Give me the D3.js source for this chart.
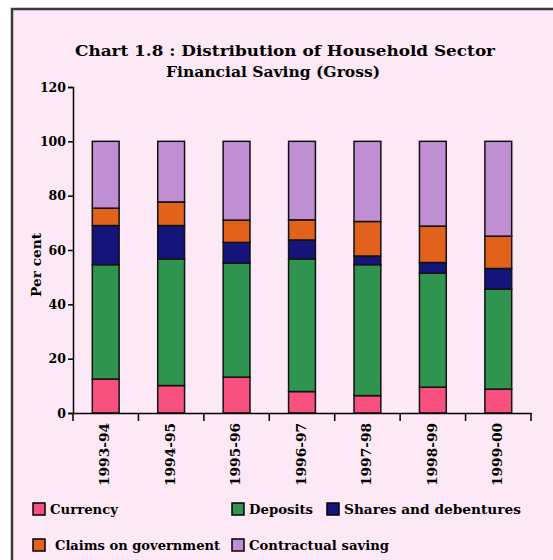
<!DOCTYPE html>
<html><head><meta charset="utf-8">
<script src="https://cdn.jsdelivr.net/npm/d3@7"></script>
<style>html,body{margin:0;padding:0;background:#fff}svg{display:block}</style>
</head><body>
<svg id="c" width="553" height="560"></svg>
<script>
const categories = ["1993-94","1994-95","1995-96","1996-97","1997-98","1998-99","1999-00"];
const seriesNames = ["Currency","Deposits","Shares and debentures","Claims on government","Contractual saving"];
const currency    = [12.5, 10.1, 13.2, 7.9, 6.4, 9.5, 8.8];
const deposits    = [42.1, 46.6, 42.0, 48.8, 48.2, 42.0, 36.8];
const shares      = [14.4, 12.3, 7.6, 7.0, 3.2, 3.9, 7.6];
const claims      = [6.4, 8.7, 8.2, 7.4, 12.7, 13.4, 11.9];
const contractual = [24.6, 22.3, 29.0, 28.9, 29.5, 31.2, 34.9];
const yTicks = [0,20,40,60,80,100,120];
const colors = ["#f8507f","#2f9450","#14147a","#e2621c","#c08ed2"];

const svg = d3.select("#c");
const font = "'DejaVu Serif', serif";
// frame background
svg.append("rect").attr("x",12).attr("y",9).attr("width",560).attr("height",570)
  .attr("fill","#fde9f5").attr("stroke","#3a3a3a").attr("stroke-width",2.5);

// title
const title = svg.append("text").attr("text-anchor","middle").attr("font-family",font)
  .attr("font-weight","bold").attr("font-size",15).attr("fill","#000");
title.append("tspan").attr("x",285).attr("y",56).attr("textLength",420).attr("lengthAdjust","spacingAndGlyphs")
  .text("Chart 1.8 : Distribution of Household Sector");
title.append("tspan").attr("x",273).attr("y",77).attr("textLength",214).attr("lengthAdjust","spacingAndGlyphs")
  .text("Financial Saving (Gross)");

const x = d3.scaleBand().domain(categories).range([73,531]).paddingInner(0.59).paddingOuter(0.295);
const y = d3.scaleLinear().domain([0,120]).range([413,87]);

const rows = categories.map((c,i)=>({cat:c, Currency:currency[i], Deposits:deposits[i],
  "Shares and debentures":shares[i], "Claims on government":claims[i], "Contractual saving":contractual[i]}));
const stack = d3.stack().keys(seriesNames)(rows);

svg.append("g").selectAll("g").data(stack).join("g")
  .attr("fill",(d,i)=>colors[i])
  .selectAll("rect").data(d=>d).join("rect")
  .attr("x",d=>x(d.data.cat)).attr("width",x.bandwidth())
  .attr("y",d=>y(d[1])).attr("height",d=>y(d[0])-y(d[1]))
  .attr("stroke","#111").attr("stroke-width",1.5);

// y axis
const ya = svg.append("g").attr("transform","translate(73,0)")
  .call(d3.axisLeft(y).tickValues(yTicks).tickSize(5).tickPadding(2));
ya.select(".domain").attr("stroke","#000").attr("stroke-width",1.5);
ya.selectAll(".tick line").attr("stroke","#000").attr("stroke-width",1.5);
ya.selectAll(".tick text").attr("font-family",font).attr("font-weight","bold").attr("font-size",12.5).attr("fill","#000");

// x axis
const xa = svg.append("g").attr("transform","translate(0,413)")
  .call(d3.axisBottom(x).tickSize(0).tickPadding(0));
xa.select(".domain").attr("stroke","#000").attr("stroke-width",1.5);
xa.selectAll(".tick text").attr("font-family",font).attr("font-weight","bold").attr("font-size",13.5).attr("fill","#000")
  .attr("text-anchor","end").attr("dy","0.35em").attr("transform","translate(-1,10) rotate(-90)")
  .attr("textLength",63).attr("lengthAdjust","spacingAndGlyphs");
// boundary ticks
const step = x.step();
const bounds = d3.range(categories.length+1).map(i=>x.range()[0]+i*step);
xa.selectAll("line.bt").data(bounds).join("line").attr("class","bt")
  .attr("x1",d=>d).attr("x2",d=>d).attr("y1",0).attr("y2",8)
  .attr("stroke","#000").attr("stroke-width",1.5);

// y label
svg.append("text").attr("transform","translate(41,265) rotate(-90)").attr("text-anchor","middle")
  .attr("font-family",font).attr("font-weight","bold").attr("font-size",13).attr("textLength",64)
  .attr("lengthAdjust","spacingAndGlyphs").text("Per cent");

// legend
const legPos = [[33,503],[232,503],[327,503],[33,539],[232,539]];
const legLen = [68,64,177,165,140];
const lg = svg.append("g").selectAll("g").data(seriesNames).join("g")
  .attr("transform",(d,i)=>`translate(${legPos[i][0]},${legPos[i][1]})`);
lg.append("rect").attr("width",12).attr("height",12).attr("fill",(d,i)=>colors[i])
  .attr("stroke","#000").attr("stroke-width",1.5);
lg.append("text").attr("x",(d,i)=>i===3?22:17).attr("y",6).attr("dy","0.35em").attr("font-family",font)
  .attr("font-weight","bold").attr("font-size",13).attr("textLength",(d,i)=>legLen[i])
  .attr("lengthAdjust","spacingAndGlyphs").text(d=>d);
</script>
</body></html>
